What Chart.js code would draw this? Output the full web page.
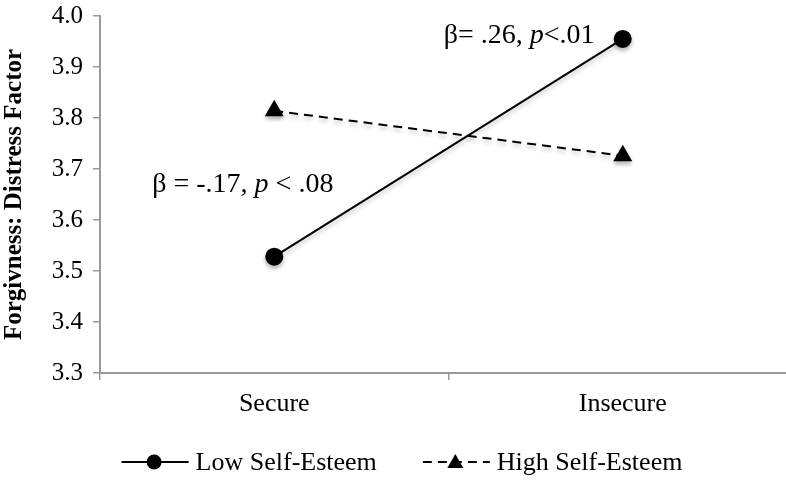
<!DOCTYPE html>
<html>
<head>
<meta charset="utf-8">
<script src="https://cdn.jsdelivr.net/npm/chart.js@4"></script>
<style>
  html, body { margin: 0; padding: 0; background: #fff; overflow: hidden; }
  #wrap { width: 808px; height: 481px; }
</style>
</head>
<body>
<div id="wrap"><canvas id="miGrafico" width="808" height="481"></canvas></div>
<script>
const CATEGORIAS = ['Secure', 'Insecure'];
const BAJA_AUTOESTIMA = [3.528, 3.955];
const ALTA_AUTOESTIMA = [3.814, 3.726];
const TICKS_Y = [3.3, 3.4, 3.5, 3.6, 3.7, 3.8, 3.9, 4.0];
const SERIF = '"Liberation Serif", "Times New Roman", serif';

// leyenda dibujada a mano (linea + marcador en el centro)
const leyendaPlugin = {
  id: 'leyenda',
  afterDraw(chart) {
    const ctx = chart.ctx;
    const y = 462;
    const largo = 67, gap = 7, sep = 46;
    ctx.save();
    ctx.font = '26px ' + SERIF;
    const items = chart.data.datasets.map(ds => ({ ds, w: ctx.measureText(ds.label).width }));
    let total = 0;
    items.forEach((it, i) => { total += largo + gap + it.w + (i > 0 ? sep : 0); });
    let x = 402 - total / 2;
    items.forEach((it, i) => {
      if (i > 0) x += sep;
      ctx.strokeStyle = '#000';
      ctx.lineWidth = 2;
      ctx.setLineDash(it.ds.borderDash || []);
      ctx.beginPath();
      ctx.moveTo(x, y);
      ctx.lineTo(x + largo, y);
      ctx.stroke();
      ctx.setLineDash([]);
      const cx = x + largo / 2 - 1;
      ctx.fillStyle = '#000';
      ctx.beginPath();
      if (it.ds.pointStyle === 'triangle') {
        ctx.moveTo(cx, y - 8);
        ctx.lineTo(cx + 8, y + 6);
        ctx.lineTo(cx - 8, y + 6);
        ctx.closePath();
      } else {
        ctx.arc(cx, y, 7.5, 0, Math.PI * 2);
      }
      ctx.fill();
      ctx.textBaseline = 'middle';
      ctx.textAlign = 'left';
      ctx.fillText(it.ds.label, x + largo + gap, y + 1);
      x += largo + gap + it.w;
    });
    ctx.restore();
  }
};

// textos de beta y p
function textoPartes(ctx, partes, x, y) {
  partes.forEach(p => {
    ctx.font = (p.i ? 'italic ' : '') + '28px ' + SERIF;
    ctx.fillText(p.t, x, y);
    x += ctx.measureText(p.t).width;
  });
}
const notasPlugin = {
  id: 'notas',
  afterDraw(chart) {
    const ctx = chart.ctx;
    const xs = chart.scales.x, ys = chart.scales.y;
    ctx.save();
    ctx.fillStyle = '#000';
    ctx.textBaseline = 'alphabetic';
    textoPartes(ctx, [{t: '\u03b2= .26, '}, {t: 'p', i: true}, {t: '<.01'}],
      xs.getPixelForValue(1) - 179, ys.getPixelForValue(3.948));
    textoPartes(ctx, [{t: '\u03b2 = -.17, '}, {t: 'p', i: true}, {t: ' < .08'}],
      xs.getPixelForValue(0) - 122, ys.getPixelForValue(3.655));
    ctx.restore();
  }
};

// sombra suave bajo los marcadores
const sombraPlugin = {
  id: 'sombra',
  beforeDatasetsDraw(chart) {
    chart.ctx.save();
    chart.ctx.shadowColor = 'rgba(0,0,0,0.25)';
    chart.ctx.shadowBlur = 4;
    chart.ctx.shadowOffsetY = 3;
  },
  afterDatasetsDraw(chart) { chart.ctx.restore(); }
};

const GRAFICO = document.getElementById('miGrafico');
let grafica = new Chart(GRAFICO, {
  type: 'line',
  data: {
    labels: CATEGORIAS,
    datasets: [{
      label: 'Low Self-Esteem',
      data: BAJA_AUTOESTIMA,
      borderColor: '#000',
      backgroundColor: '#000',
      borderWidth: 2,
      pointStyle: 'circle',
      pointRadius: 8,
      pointHoverRadius: 8,
      tension: 0
    }, {
      label: 'High Self-Esteem',
      data: ALTA_AUTOESTIMA,
      borderColor: '#000',
      backgroundColor: '#000',
      borderWidth: 2,
      borderDash: [9, 6],
      pointStyle: 'triangle',
      pointRadius: 9,
      pointHoverRadius: 9,
      tension: 0
    }]
  },
  options: {
    responsive: false,
    animation: false,
    events: [],
    layout: { padding: { top: 16, right: 3, left: 0, bottom: 0 } },
    plugins: {
      legend: { display: false },
      tooltip: { enabled: false }
    },
    scales: {
      x: {
        offset: true,
        afterFit(s) { s.height = 108; s.paddingLeft = 0; s.paddingRight = 0; },
        grid: { offset: true, drawOnChartArea: false, color: '#999', lineWidth: 1.5, tickLength: 7 },
        border: { color: '#999', width: 2 },
        ticks: { color: '#000', padding: 9, font: { family: SERIF, size: 26 } }
      },
      y: {
        min: 3.3,
        max: 4.0,
        afterFit(s) { s.width = 100; s.paddingTop = 0; s.paddingBottom = 0; },
        afterBuildTicks(s) { s.ticks = TICKS_Y.map(v => ({ value: v })); },
        grid: { drawOnChartArea: false, color: '#999', lineWidth: 1.5, tickLength: 7 },
        border: { color: '#999', width: 2 },
        ticks: {
          color: '#000',
          padding: 10,
          font: { family: SERIF, size: 25 },
          callback: v => v.toFixed(1)
        },
        title: {
          display: true,
          text: 'Forgivness: Distress Factor',
          color: '#000',
          padding: { top: 0, bottom: 0 },
          font: { family: SERIF, size: 25, weight: 'bold' }
        }
      }
    }
  },
  plugins: [sombraPlugin, notasPlugin, leyendaPlugin]
});
</script>
</body>
</html>
